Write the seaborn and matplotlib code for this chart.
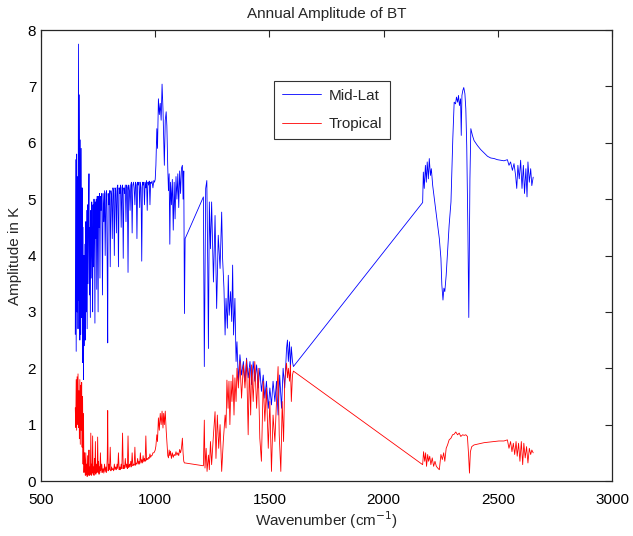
import numpy as np
import pandas as pd
import seaborn as sns
import matplotlib
matplotlib.use('Agg')
import matplotlib.pyplot as plt

# Mid-latitude amplitude (wavenumber, K)
midlat_wn = [
    650, 652, 654, 656, 658, 660, 662, 664, 666, 668, 670, 672, 674, 676, 678, 680, 682, 684, 686, 688, 690,
    692, 694, 696, 698, 700, 702, 704, 706, 708, 710, 712, 714, 716, 718, 720, 722, 724, 726, 728, 730,
    732, 734, 736, 738, 740, 742, 744, 746, 748, 750, 752, 754, 756, 758, 760, 763, 766, 769, 772, 775,
    778, 781, 784, 787, 790, 792, 794, 797, 800, 803, 806, 809, 812, 815, 818, 821, 824, 827, 830, 833,
    836, 839, 842, 845, 848, 851, 854, 857, 860, 863, 866, 869, 872, 875, 878, 881, 884, 887, 890, 893,
    896, 899, 902, 905, 908, 911, 914, 917, 920, 923, 926, 929, 932, 935, 938, 941, 944, 947, 950, 953,
    956, 959, 962, 965, 968, 971, 974, 977, 980, 983, 986, 990, 994, 997, 1000,
    1003, 1007, 1010, 1014, 1018, 1022, 1026, 1030, 1034, 1037, 1040, 1044, 1048, 1051, 1055, 1058, 1061,
    1064, 1067, 1071, 1075, 1079, 1083, 1087, 1091, 1095, 1099, 1103, 1107, 1111, 1115, 1119, 1122, 1125,
    1128, 1131,
    1211, 1215, 1221, 1226, 1230, 1233, 1237, 1242, 1247, 1255, 1262, 1269, 1276, 1284, 1291, 1295, 1301,
    1306, 1310, 1316, 1320, 1324, 1330, 1335, 1339, 1343, 1349, 1354, 1358, 1364, 1371, 1378, 1386, 1393,
    1400, 1407, 1415, 1422, 1429, 1436, 1444, 1451, 1458, 1465, 1473, 1480, 1487, 1495, 1502, 1509, 1516,
    1524, 1531, 1538, 1545, 1553, 1560, 1567, 1575, 1579, 1583, 1588, 1592, 1596, 1601, 1605,
    2171, 2174, 2178, 2183, 2187, 2191, 2196, 2200, 2205, 2209, 2215, 2222, 2229, 2236, 2244, 2251, 2255,
    2260, 2264, 2268, 2274, 2280, 2287, 2295, 2299, 2303, 2309, 2315, 2319, 2324, 2328, 2332, 2337, 2340,
    2343, 2347, 2351, 2356, 2360, 2364, 2369, 2373, 2378, 2382, 2389, 2396, 2411, 2425, 2440, 2455, 2469,
    2484, 2498, 2513, 2527, 2542, 2549, 2556, 2564, 2571, 2578, 2583, 2588, 2594, 2600, 2606, 2612, 2617,
    2623, 2628, 2632, 2638, 2644, 2649, 2655,
]
midlat_amp = [
    2.6, 5.7, 2.3, 5.8, 3.0, 5.4, 2.7, 7.75, 3.2, 6.85, 2.5, 6.05, 2.6, 5.9, 2.9, 5.2, 2.1, 4.5, 1.8, 4.0, 2.4,
    4.2, 2.5, 4.6, 3.0, 4.8, 2.7, 4.9, 3.5, 4.7, 5.45, 3.3, 4.5, 2.9, 4.8, 3.6, 4.95, 4.2, 3.0, 4.9, 3.8,
    5.0, 4.6, 2.8, 4.95, 4.3, 5.0, 3.4, 5.05, 4.7, 3.0, 5.05, 4.5, 5.1, 3.6, 5.05, 4.8, 5.1, 3.3, 5.1, 4.6,
    5.15, 4.0, 5.1, 5.15, 3.7, 2.45, 5.1, 4.9, 5.15, 3.8, 5.15, 5.05, 4.3, 5.2, 5.1, 4.0, 5.2, 5.15, 4.4, 5.2,
    5.25, 3.8, 5.2, 5.1, 5.25, 4.5, 5.2, 5.25, 3.95, 5.2, 5.1, 5.25, 4.6, 5.25, 5.2, 3.7, 5.25, 5.15, 4.8, 5.25,
    5.3, 4.4, 5.25, 5.3, 5.2, 4.9, 5.3, 5.25, 4.3, 5.3, 5.25, 5.3, 4.85, 5.3, 5.2, 3.9, 5.3, 5.25, 5.3, 4.9,
    5.3, 5.2, 5.33, 4.8, 5.3, 5.25, 5.32, 4.9, 5.3, 5.28, 5.32, 5.2, 5.33, 5.3, 5.35,
    5.6, 6.25, 5.9, 6.78, 6.5, 6.7, 6.4, 7.04, 6.6, 6.1, 5.6, 6.4, 6.55, 6.3, 5.55, 5.15, 5.45,
    4.2, 5.3, 4.9, 5.35, 4.45, 5.3, 4.65, 5.4, 5.0, 5.45, 4.85, 5.5, 5.1, 5.55, 5.6, 5.0, 5.5,
    2.97, 4.3,
    5.04, 2.03, 5.19, 5.33, 3.83, 2.35, 4.95, 4.12, 4.95, 3.53, 4.71, 3.06, 4.36, 3.77, 4.77, 3.95, 3.42,
    2.59, 3.24, 2.71, 3.65, 2.94, 3.36, 2.83, 3.83, 2.59, 3.24, 2.12, 2.47, 1.77, 2.24, 1.88, 2.12, 1.77,
    2.18, 1.83, 2.12, 1.71, 2.12, 1.77, 2.06, 1.65, 2.0, 1.59, 1.88, 1.47, 1.77, 1.29, 1.65, 1.35, 1.77,
    1.41, 1.77, 1.17, 1.88, 1.29, 2.0, 1.65, 2.35, 2.5, 2.12, 2.47, 2.0, 2.38, 2.12, 2.03,
    4.94, 5.48, 5.19, 5.6, 5.3, 5.66, 5.36, 5.72, 5.42, 5.54, 5.24, 5.01, 4.77, 4.54, 4.3, 3.95, 3.48,
    3.21, 3.42, 3.36, 3.65, 4.07, 4.54, 4.95, 5.48, 6.07, 6.72, 6.69, 6.81, 6.72, 6.84, 6.66, 6.78, 6.13,
    6.84, 6.93, 6.98, 6.87, 6.6, 5.95, 4.48, 2.9, 5.36, 6.25, 6.13, 6.04, 5.95, 5.88, 5.82, 5.76, 5.73,
    5.72, 5.7, 5.69, 5.68, 5.7, 5.6, 5.66, 5.51, 5.63, 5.42, 5.19, 5.6, 5.36, 5.69, 5.19, 5.6, 5.1,
    5.54, 5.04, 5.66, 5.3, 5.54, 5.24, 5.39,
]

# Tropical amplitude (wavenumber, K)
trop_wn = [
    650, 652, 654, 656, 658, 660, 662, 664, 666, 668, 670, 672, 674, 676, 678, 680, 682, 684, 686, 688, 690,
    692, 694, 696, 698, 700, 702, 704, 706, 708, 710, 712, 714, 716, 718, 720, 722, 724, 726, 728, 730,
    732, 734, 736, 738, 740, 742, 744, 746, 748, 750, 752, 754, 756, 758, 760, 763, 766, 769, 772, 775,
    778, 781, 784, 787, 790, 792, 794, 797, 800, 803, 806, 809, 812, 815, 818, 821, 824, 827, 830, 833,
    836, 839, 842, 845, 848, 851, 854, 857, 860, 863, 866, 869, 872, 875, 878, 881, 884, 887, 890, 893,
    896, 899, 902, 905, 908, 911, 914, 917, 920, 923, 926, 929, 932, 935, 938, 941, 944, 947, 950, 953,
    956, 959, 962, 965, 968, 971, 974, 977, 980, 983, 986, 990, 994, 997, 1000,
    1003, 1007, 1010, 1014, 1018, 1022, 1026, 1030, 1034, 1037, 1040, 1044, 1048, 1051, 1055, 1058, 1061,
    1064, 1067, 1071, 1075, 1079, 1083, 1087, 1091, 1095, 1099, 1103, 1107, 1111, 1115, 1119, 1122, 1125,
    1128, 1131,
    1211, 1215, 1218, 1223, 1227, 1233, 1237, 1242, 1247, 1255, 1262, 1266, 1272, 1278, 1284, 1291, 1298,
    1306, 1310, 1314, 1319, 1323, 1327, 1332, 1336, 1340, 1345, 1349, 1354, 1358, 1364, 1371, 1378, 1386,
    1393, 1400, 1407, 1412, 1418, 1422, 1429, 1436, 1444, 1451, 1458, 1465, 1473, 1480, 1487, 1495, 1502,
    1509, 1516, 1524, 1531, 1538, 1543, 1550, 1556, 1562, 1567, 1575, 1579, 1583, 1588, 1592, 1596, 1601,
    1605,
    2171, 2175, 2180, 2184, 2188, 2193, 2197, 2202, 2207, 2213, 2219, 2225, 2231, 2237, 2244, 2251, 2257,
    2263, 2268, 2274, 2280, 2287, 2295, 2302, 2309, 2316, 2324, 2331, 2338, 2346, 2353, 2360, 2367, 2372,
    2376, 2380, 2386, 2396, 2418, 2440, 2462, 2484, 2505, 2527, 2542, 2549, 2556, 2562, 2568, 2574, 2580,
    2585, 2591, 2597, 2603, 2609, 2614, 2620, 2626, 2632, 2638, 2644, 2649, 2655,
]
trop_amp = [
    1.3, 0.95, 1.8, 0.9, 1.85, 1.0, 1.9, 0.95, 1.6, 0.75, 1.8, 0.65, 1.7, 0.9, 1.75, 0.6, 1.5, 0.3, 1.2, 0.15, 0.5,
    0.35, 0.1, 0.5, 0.12, 0.3, 0.08, 0.45, 0.1, 0.3, 0.55, 0.1, 0.25, 0.12, 0.85, 0.1, 0.3, 0.15, 0.8, 0.12, 0.25,
    0.1, 0.4, 0.15, 0.7, 0.12, 0.3, 0.15, 0.2, 0.78, 0.15, 0.35, 0.12, 0.25, 0.18, 0.5, 0.15, 0.3, 0.15, 0.22, 0.14,
    0.3, 0.16, 0.25, 0.15, 0.4, 1.25, 0.18, 0.3, 0.2, 0.6, 0.18, 0.25, 0.2, 0.22, 0.18, 0.3, 0.2, 0.25, 0.2, 0.3,
    0.22, 0.5, 0.2, 0.25, 0.2, 0.3, 0.22, 0.85, 0.22, 0.28, 0.22, 0.4, 0.24, 0.3, 0.22, 0.8, 0.24, 0.3, 0.25, 0.35,
    0.25, 0.5, 0.27, 0.3, 0.28, 0.6, 0.28, 0.32, 0.3, 0.4, 0.3, 0.35, 0.3, 0.5, 0.32, 0.38, 0.32, 0.45, 0.34, 0.4,
    0.35, 0.8, 0.37, 0.4, 0.38, 0.42, 0.4, 0.48, 0.42, 0.45, 0.45, 0.5, 0.5, 0.52, 0.55,
    0.62, 0.82, 0.7, 1.12, 0.9, 1.2, 1.0, 1.24, 0.94, 1.2, 1.0, 1.24, 0.9, 0.71, 0.45, 0.41, 0.55,
    0.45, 0.53, 0.4, 0.5, 0.42, 0.47, 0.45, 0.52, 0.46, 0.5, 0.45, 0.56, 0.5, 0.58, 0.76, 0.5, 0.35,
    0.32, 0.32,
    0.27, 1.08, 0.23, 0.58, 0.17, 0.46, 0.2, 0.7, 0.29, 0.82, 1.23, 0.4, 1.17, 0.58, 1.0, 0.17, 0.7,
    1.17, 0.94, 1.79, 1.29, 1.77, 1.0, 1.77, 1.41, 1.88, 1.17, 1.83, 1.41, 2.0, 1.65, 2.12, 1.47, 2.06,
    1.65, 2.15, 0.82, 2.0, 1.17, 2.06, 1.41, 2.12, 1.29, 2.0, 0.76, 0.35, 1.77, 1.06, 1.65, 0.58, 1.41,
    0.17, 1.17, 0.7, 1.41, 2.03, 0.82, 0.17, 1.41, 0.7, 1.77, 2.09, 1.83, 2.0, 1.77, 2.06, 1.41, 1.88,
    1.95,
    0.29, 0.52, 0.35, 0.5, 0.26, 0.47, 0.35, 0.44, 0.29, 0.41, 0.26, 0.35, 0.26, 0.23, 0.2, 0.47, 0.38,
    0.5, 0.35, 0.58, 0.64, 0.73, 0.76, 0.82, 0.83, 0.87, 0.82, 0.85, 0.79, 0.82, 0.81, 0.82, 0.79, 0.47,
    0.14, 0.52, 0.61, 0.64, 0.66, 0.68, 0.69, 0.7, 0.71, 0.71, 0.73, 0.58, 0.7, 0.52, 0.67, 0.47, 0.7,
    0.44, 0.67, 0.35, 0.7, 0.29, 0.67, 0.41, 0.61, 0.32, 0.58, 0.47, 0.55, 0.5,
]

midlat = pd.DataFrame({'wavenumber': midlat_wn, 'amplitude': midlat_amp})
trop = pd.DataFrame({'wavenumber': trop_wn, 'amplitude': trop_amp})

sns.set_style('white')
plt.rcParams['font.family'] = ['Liberation Sans', 'DejaVu Sans']

fig = plt.figure(figsize=(6.33, 5.36), dpi=100)
ax = fig.add_axes([0.0648, 0.1026, 0.902, 0.8414])

sns.lineplot(data=midlat, x='wavenumber', y='amplitude', ax=ax, color='#0000ff',
             linewidth=0.6, estimator=None, sort=False, label='Mid-Lat')
sns.lineplot(data=trop, x='wavenumber', y='amplitude', ax=ax, color='#ff0000',
             linewidth=0.6, estimator=None, sort=False, label='Tropical')

ax.set_xlim(500, 3000)
ax.set_ylim(0, 8)
ax.set_xticks([500, 1000, 1500, 2000, 2500, 3000])
ax.set_yticks(range(0, 9))
ax.tick_params(axis='both', direction='in', length=5, width=0.8, labelsize=11,
               top=True, right=True, colors='#262626', labelcolor='black')
ax.tick_params(axis='x', pad=8.5)
for s in ax.spines.values():
    s.set_color('#262626')
    s.set_linewidth(0.9)

ax.set_title('Annual Amplitude of BT', fontsize=11, pad=9)
ax.set_xlabel('Wavenumber (cm$^{-1}$)', fontsize=11, labelpad=2)
ax.set_ylabel('Amplitude in K', fontsize=11)

leg = ax.legend(loc='upper left', bbox_to_anchor=(0.408, 0.887), fontsize=11,
                frameon=True, fancybox=False, edgecolor='black', handlelength=2.6,
                borderpad=0.5, labelspacing=0.95, handletextpad=0.5, borderaxespad=0)
leg.get_frame().set_linewidth(0.8)

fig.savefig('out.png', dpi=100, facecolor='white')
